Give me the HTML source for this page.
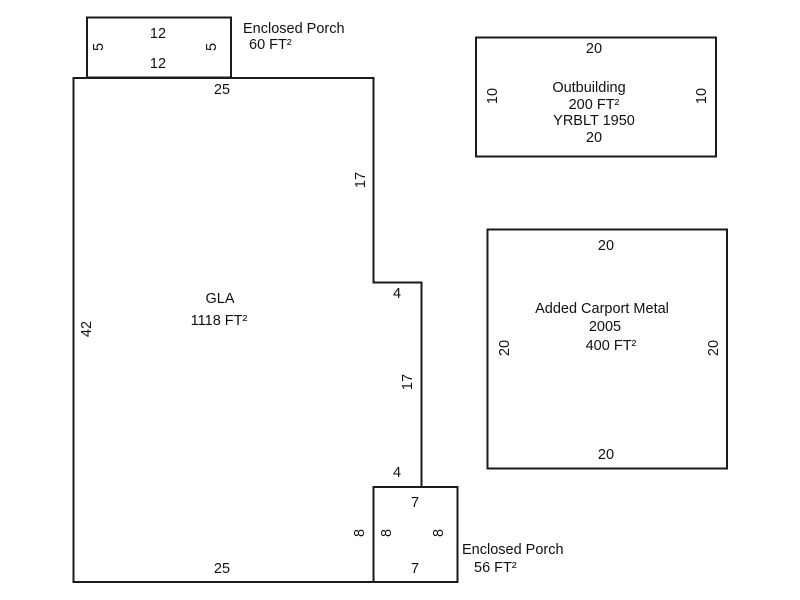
<!DOCTYPE html>
<html>
<head>
<meta charset="utf-8">
<style>
  html,body{margin:0;padding:0;background:#fff;}
  svg{display:block;}
  text{font-family:"Liberation Sans",Arial,sans-serif;font-size:14.5px;fill:#111;}
</style>
</head>
<body>
<svg width="800" height="600" viewBox="0 0 800 600" xmlns="http://www.w3.org/2000/svg">
  <g fill="none" stroke="#1a1a1a" stroke-width="2" stroke-linejoin="miter">
    <!-- top porch -->
    <rect x="87" y="17.5" width="144" height="60"/>
    <!-- main GLA -->
    <polyline points="373.5,487 421.5,487 421.5,282.5 373.5,282.5 373.5,78 73.5,78 73.5,582 373.5,582"/>
    <!-- bottom porch -->
    <rect x="373.5" y="487" width="84" height="95"/>
    <!-- outbuilding -->
    <rect x="476" y="37.5" width="240" height="119"/>
    <!-- carport -->
    <rect x="487.5" y="229.5" width="239.5" height="239"/>
  </g>

  <g text-anchor="middle">
    <!-- top porch -->
    <text x="158" y="38">12</text>
    <text x="158" y="68">12</text>
    <text transform="translate(98,47) rotate(-90)" y="5">5</text>
    <text transform="translate(211,47) rotate(-90)" y="5">5</text>

    <!-- GLA -->
    <text x="222" y="94">25</text>
    <text transform="translate(360,180) rotate(-90)" y="5">17</text>
    <text x="220" y="303">GLA</text>
    <text x="219" y="325">1118 FT²</text>
    <text transform="translate(86,329) rotate(-90)" y="5">42</text>
    <text x="397" y="298">4</text>
    <text transform="translate(407,382) rotate(-90)" y="5">17</text>
    <text x="397" y="477">4</text>
    <text x="222" y="573">25</text>

    <!-- bottom porch -->
    <text x="415" y="507">7</text>
    <text x="415" y="573">7</text>
    <text transform="translate(359,533) rotate(-90)" y="5">8</text>
    <text transform="translate(386,533) rotate(-90)" y="5">8</text>
    <text transform="translate(438,533) rotate(-90)" y="5">8</text>

    <!-- outbuilding -->
    <text x="594" y="53">20</text>
    <text x="589" y="92">Outbuilding</text>
    <text x="594" y="109">200 FT²</text>
    <text x="594" y="125">YRBLT 1950</text>
    <text x="594" y="142">20</text>
    <text transform="translate(492,96) rotate(-90)" y="5">10</text>
    <text transform="translate(701,96) rotate(-90)" y="5">10</text>

    <!-- carport -->
    <text x="606" y="250">20</text>
    <text x="602" y="313">Added Carport Metal</text>
    <text x="605" y="331">2005</text>
    <text x="611" y="350">400 FT²</text>
    <text transform="translate(504,348) rotate(-90)" y="5">20</text>
    <text transform="translate(713,348) rotate(-90)" y="5">20</text>
    <text x="606" y="459">20</text>
  </g>

  <!-- left-aligned labels -->
  <text x="243" y="33">Enclosed Porch</text>
  <text x="249" y="49">60 FT²</text>
  <text x="462" y="554">Enclosed Porch</text>
  <text x="474" y="572">56 FT²</text>
</svg>
</body>
</html>
